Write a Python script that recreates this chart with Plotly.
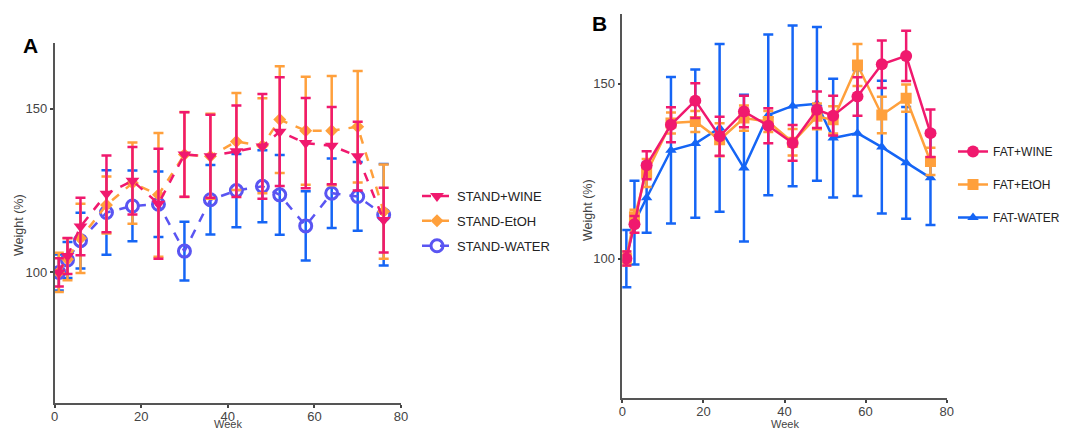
import plotly.graph_objects as go

weeks = [1, 3, 6, 12, 18, 24, 30, 36, 42, 48, 52, 58, 64, 70, 76]

# Panel A (standard diet)
stand_wine = [100, 105, 114, 124, 128, 121, 136, 135.5, 137, 138.5, 143, 139.5, 138.7, 135.5, 116]
stand_wine_sd = [4.3, 5.5, 8.8, 11.7, 10.3, 16.8, 12.9, 12.7, 14, 16, 16.6, 13.8, 11.8, 10.5, 9.9]
stand_etoh = [100, 104, 110.4, 120.6, 127.3, 123.7, 136, 135.5, 140, 138.7, 146.7, 143.3, 143.3, 144.5, 118.6]
stand_etoh_sd = [6, 6.4, 10.6, 8.7, 12.4, 18.9, 13, 13, 14.8, 14.5, 16.3, 16.5, 16.7, 17, 14.4]
stand_water = [100, 103.8, 109.7, 118.3, 120.3, 120.8, 106.5, 122.2, 125, 126.3, 123.7, 114.2, 124.2, 123.2, 117.6]
stand_water_sd = [5.5, 5.5, 8.5, 12.9, 10.8, 10, 9, 10.6, 11.2, 11, 12.2, 10.6, 10.6, 10.5, 15.5]

# Panel B (fat diet)
fat_wine = [100, 109.8, 126.7, 138.3, 145.2, 135, 142.1, 138, 133.1, 142.6, 140.9, 146.4, 155.6, 158, 135.9]
fat_wine_sd = [2, 2.4, 4, 5, 5, 5.6, 4.5, 5, 5.1, 5.2, 5.7, 5.5, 6.8, 7.2, 6.8]
fat_etoh = [100, 112, 124.5, 138.8, 139.2, 134, 140.2, 139.2, 133.3, 140.7, 139.7, 155.4, 141.1, 145.9, 127.8]
fat_etoh_sd = [2, 2, 4, 3, 3, 4.7, 3.6, 3, 3.8, 3.7, 3.9, 6, 5.2, 3.9, 3.9]
fat_water = [100, 110.3, 117.4, 131, 132.9, 137.4, 125.9, 141.1, 143.7, 144.3, 134.5, 135.9, 131.9, 127.4, 123.1]
fat_water_sd = [8.2, 12, 10, 21, 21.2, 24, 21, 23, 23, 22, 17, 18, 19, 16, 13.5]

x_ticks = [0, 20, 40, 60, 80]
y_ticks = [100, 150]

PINK = "#F0196E"
ORANGE = "#FFA03C"
BLUE = "#1565F5"
PURPLE = "#5A55F2"

fig = go.Figure()


def add(x, y, sd, name, color, symbol, size, dash, xa, ya, legend, rank, ebcolor=None, mline=None):
    marker = dict(color=color, symbol=symbol, size=size)
    if mline:
        marker["line"] = dict(color=color, width=mline)
    fig.add_trace(go.Scatter(
        x=x, y=y, name=name, mode="lines+markers",
        line=dict(color=color, width=2.5, dash=dash),
        marker=marker,
        error_y=dict(type="data", array=sd, visible=True,
                     color=ebcolor or color, thickness=2.5, width=5),
        xaxis=xa, yaxis=ya, legend=legend, legendrank=rank,
        legendgroup=name,
    ))


# Panel A (water first so wine is on top)
add(weeks, stand_water, stand_water_sd, "STAND-WATER", PURPLE, "circle-open", 12, "dash",
    "x", "y", "legend", 3, ebcolor=BLUE, mline=3)
add(weeks, stand_etoh, stand_etoh_sd, "STAND-EtOH", ORANGE, "diamond", 10, "dash",
    "x", "y", "legend", 2)
add(weeks, stand_wine, stand_wine_sd, "STAND+WINE", PINK, "triangle-down", 12, "dash",
    "x", "y", "legend", 1)

# Panel B
add(weeks, fat_water, fat_water_sd, "FAT-WATER", BLUE, "triangle-up", 10, "solid",
    "x2", "y2", "legend2", 3)
add(weeks, fat_etoh, fat_etoh_sd, "FAT+EtOH", ORANGE, "square", 11, "solid",
    "x2", "y2", "legend2", 2)
add(weeks, fat_wine, fat_wine_sd, "FAT+WINE", PINK, "circle", 12, "solid",
    "x2", "y2", "legend2", 1)

# page body has an 8px margin, so the figure is 16px smaller than the window
OFF = 8
W, H = 1069 - 2 * OFF, 439 - 2 * OFF


def px(v):
    return (v - OFF) / W


def py(v):
    return 1 - (v - OFF) / H


axis_common = dict(showline=True, linecolor="#555", linewidth=1.5, ticks="outside",
                   ticklen=3, tickwidth=2, tickcolor="#444", showgrid=False,
                   zeroline=False, tickfont=dict(size=13, color="#444"))


def ann(text, x, y, size, color, angle=0, xanchor="center", yanchor="middle"):
    return dict(text=text, x=px(x), y=py(y), xref="paper", yref="paper",
                showarrow=False, textangle=angle, xanchor=xanchor, yanchor=yanchor,
                font=dict(size=size, color=color))


fig.update_layout(
    width=W, height=H,
    margin=dict(l=0, r=0, t=0, b=0, autoexpand=False),
    paper_bgcolor="white", plot_bgcolor="white",
    font=dict(family="Liberation Sans, Arial, sans-serif", color="#333"),
    xaxis=dict(domain=[px(54.5), px(401)], range=[0, 80], tickvals=x_ticks,
               ticklabelstandoff=-3, **axis_common),
    yaxis=dict(domain=[py(403.3), py(43.3)], range=[60, 170], tickvals=y_ticks,
               anchor="x", **axis_common),
    xaxis2=dict(domain=[px(622.3), px(946.7)], range=[0, 80], tickvals=x_ticks,
                anchor="y2", ticklabelstandoff=-3, **axis_common),
    yaxis2=dict(domain=[py(398.3), py(14)], range=[60, 170], tickvals=y_ticks,
                anchor="x2", **axis_common),
    legend=dict(x=px(417), y=py(181), xanchor="left", yanchor="top",
                font=dict(size=13, color="#222"), tracegroupgap=5,
                bgcolor="rgba(0,0,0,0)"),
    legend2=dict(x=px(953), y=py(137), xanchor="left", yanchor="top",
                 font=dict(size=12, color="#222"), tracegroupgap=14,
                 bgcolor="rgba(0,0,0,0)"),
    showlegend=True,
    annotations=[
        ann("<b>A</b>", 30, 45, 21, "black"),
        ann("<b>B</b>", 599, 23, 21, "black"),
        ann("Weight (%)", 19, 225, 12.5, "#444", angle=-90),
        ann("Weight (%)", 588, 210, 12.5, "#444", angle=-90),
        ann("Week", 228, 431.5, 11, "#444", yanchor="bottom"),
        ann("Week", 785, 431.5, 11, "#444", yanchor="bottom"),
    ],
)

fig.write_html("out.html")
